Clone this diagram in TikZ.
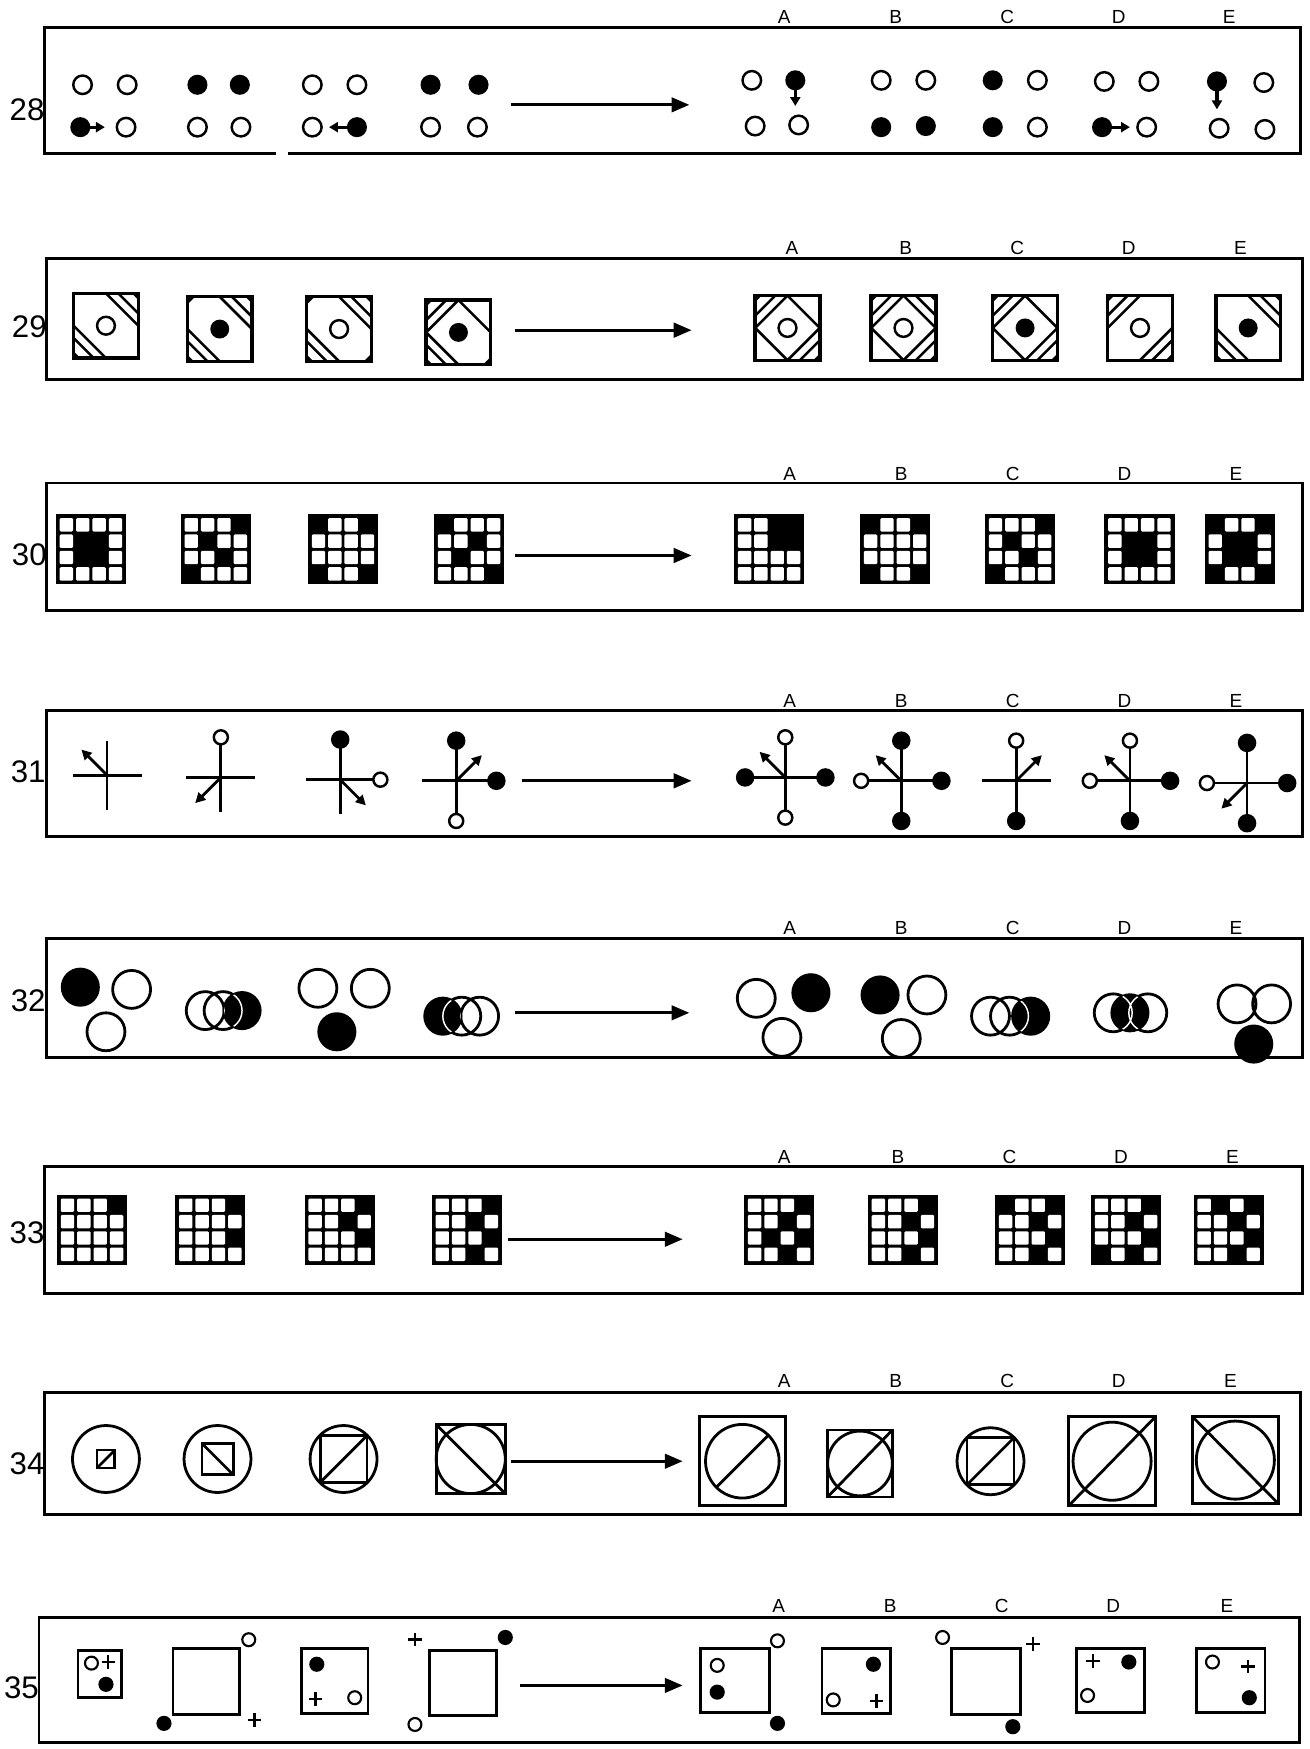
\documentclass[tikz,border=0pt]{standalone}
\usepackage{fontspec}
\setmainfont{Liberation Sans}
\usetikzlibrary{arrows.meta}
\tikzset{
 frame/.style={line width=2.6pt},
 bigarrow/.style={line width=2.6pt,-{Triangle[length=16pt,width=13pt]}},
 numlbl/.style={font=\fontsize{28}{30}\selectfont, anchor=east, inner sep=0pt},
 optlbl/.style={font=\fontsize{17}{18}\selectfont, inner sep=0pt},
 hl/.style={line width=2.3pt},
}
% row 28
\newcommand\dO[2]{\draw[line width=2.2pt] (#1,#2) circle[radius=8.3];}
\newcommand\dF[2]{\fill (#1,#2) circle[radius=9];}
\newcommand\dA[4]{\draw[line width=2.8pt,-{Triangle[length=8pt,width=9pt]}] (#1,#2) -- (#3,#4);}
% row 29
\newcommand\hc[5]{%
 \ifcase#5\relax
 \or \draw[hl] ({#1+(#3)*29},{#2}) -- ({#1},{#2+(#4)*29});
 \or \draw[hl] ({#1+(#3)*29},{#2}) -- ({#1},{#2+(#4)*29});
     \draw[hl] ({#1+(#3)*29},{#2+(#4)*11}) -- ({#1+(#3)*11},{#2+(#4)*29});
     \fill ({#1+(#3)*29},{#2+(#4)*29}) -- ({#1+(#3)*29},{#2+(#4)*23}) -- ({#1+(#3)*23},{#2+(#4)*29}) -- cycle;
 \or \fill ({#1+(#3)*29},{#2+(#4)*29}) -- ({#1+(#3)*29},{#2+(#4)*22}) -- ({#1+(#3)*22},{#2+(#4)*29}) -- cycle;
 \fi}
\newcommand\hfig[7]{%
 \hc{#1}{#2}{-1}{-1}{#3}\hc{#1}{#2}{1}{-1}{#4}\hc{#1}{#2}{1}{1}{#5}\hc{#1}{#2}{-1}{1}{#6}%
 \draw[line width=3pt] ({#1-29},{#2-29}) rectangle ({#1+29},{#2+29});
 \ifx#7o\draw[line width=2.2pt] (#1,#2) circle[radius=8];\else\fill (#1,#2) circle[radius=8.5];\fi}
% rows 30 and 33
\newcommand\gridfig[3]{%
 \fill (#1,#2) rectangle ++(63,63);
 \foreach \gr in {0,...,3}{\foreach \gc in {0,...,3}{\fill[white,rounded corners=1pt] ({#1+3.5+\gc*14.67},{#2+3.5+\gr*14.67}) rectangle ++(12,12);}}
 \foreach \gr/\gc in {#3}{\fill ({#1+3.5+(\gc-1)*14.67-0.6},{#2+3.5+(\gr-1)*14.67-0.6}) rectangle ++(13.2,13.2);}}
% row 31
\newcommand\armc[3]{\ifx#3o\draw[line width=2.2pt,fill=white] ({#1},{#2}) circle[radius=6.3];\fi\ifx#3f\fill ({#1},{#2}) circle[radius=8.3];\fi}
\newcommand\crossfig[8]{%
 \draw[line width=2.5pt] ({#1-31},#2) -- ({#1+31},#2) (#1,{#2-31}) -- (#1,{#2+31});
 \draw[line width=2.5pt,-{Triangle[length=9pt,width=9pt]}] (#1,#2) -- ({#1+(#7)*23},{#2+(#8)*23});
 \armc{#1}{#2-36}{#3}\armc{#1+36}{#2}{#4}\armc{#1}{#2+36}{#5}\armc{#1-36}{#2}{#6}}
% row 32
\newcommand\RoO[2]{\draw[line width=2.5pt] (#1,#2) circle[radius=17];}
\newcommand\RoF[2]{\fill (#1,#2) circle[radius=17.5];}
\newcommand\RoX[6]{% filled x,y ; open1 ; open2
 \fill (#1,#2) circle[radius=17.5];
 \draw[line width=2.5pt] (#3,#4) circle[radius=17] (#5,#6) circle[radius=17];
 \begin{scope}\clip (#1,#2) circle[radius=16];
 \draw[white,line width=1.3pt] (#3,#4) circle[radius=17] (#5,#6) circle[radius=17];
 \end{scope}}
% row 35
\newcommand\SmO[2]{\draw[line width=1.9pt] (#1,#2) circle[radius=5.8];}
\newcommand\SmF[2]{\fill (#1,#2) circle[radius=6.8];}
\newcommand\SmP[2]{\draw[line width=2.3pt] ({#1-6},#2) -- ({#1+6},#2) (#1,{#2-6}) -- (#1,{#2+6});}
\begin{document}
\begin{tikzpicture}[x=1pt,y=-1pt]
\fill[white] (0,0) rectangle (1174,1568);
\useasboundingbox (0,0) rectangle (1174,1568);

% ---------------- row 28
\draw[frame] (247,138) -- (40,138) -- (40,25) -- (1166,25) -- (1166,138) -- (258,138);
\node[numlbl] (n28) at (40,98) {28};
\foreach \l/\x in {A/703,B/803,C/903,D/1003,E/1102}{\node[optlbl] (l28\l) at (\x,15) {\l};}
\dO{74}{76}\dO{114}{76}\dA{70}{114}{94}{114}\dF{72}{114}\dO{113}{114}
\dF{177}{76}\dF{215}{76}\dO{177}{114}\dO{216}{114}
\dO{280}{76}\dO{320}{76}\dO{280}{114}\dA{322}{114}{295}{114}\dF{320}{114}
\dF{386}{76}\dF{429}{76}\dO{386}{114}\dO{428}{114}
\coordinate (a28s) at (458,94); \coordinate (a28e) at (618,94);
\draw[bigarrow] (a28s) -- (a28e);
\dO{674}{72}\dA{713}{70}{713}{95}\dF{713}{72}\dO{677}{113}\dO{716}{112}
\dO{790}{72}\dO{830}{72}\dF{790}{114}\dF{830}{113}
\dF{890}{72}\dO{930}{72}\dF{890}{114}\dO{930}{114}
\dO{990}{73}\dO{1030}{73}\dA{986}{114}{1013}{114}\dF{988}{114}\dO{1028}{114}
\dA{1091}{71}{1091}{98}\dF{1091}{73}\dO{1133}{74}\dO{1093}{115}\dO{1134}{116}

% ---------------- row 29
\draw[frame] (42,232) rectangle (1168,340);
\node[numlbl] (n29) at (42,293) {29};
\foreach \l/\x in {A/710,B/812,C/912,D/1012,E/1112}{\node[optlbl] (l29\l) at (\x,222) {\l};}
\hfig{95}{292}{0}{2}{0}{2}{o}
\hfig{197}{295}{3}{2}{0}{2}{f}
\hfig{304}{295}{3}{2}{3}{2}{o}
\hfig{411}{298}{2}{1}{3}{2}{f}
\coordinate (a29s) at (462,296); \coordinate (a29e) at (620,296);
\draw[bigarrow] (a29s) -- (a29e);
\hfig{706}{294}{2}{1}{2}{1}{o}
\hfig{810}{294}{2}{2}{2}{1}{o}
\hfig{919}{294}{2}{1}{2}{1}{f}
\hfig{1022}{294}{2}{0}{2}{0}{o}
\hfig{1119}{294}{0}{2}{0}{2}{f}

% ---------------- row 30
\draw[frame] (42,433) rectangle (1168,547);
\node[numlbl] (n30) at (42,497) {30};
\foreach \l/\x in {A/708,B/808,C/908,D/1008,E/1108}{\node[optlbl] (l30\l) at (\x,425) {\l};}
\gridfig{50}{461}{2/2,2/3,3/2,3/3}
\gridfig{162}{461}{1/4,2/2,3/3,4/1}
\gridfig{276}{461}{1/1,1/4,4/1,4/4}
\gridfig{389}{461}{1/1,2/3,3/2,4/4}
\coordinate (a30s) at (462,498); \coordinate (a30e) at (620,498);
\draw[bigarrow] (a30s) -- (a30e);
\gridfig{658}{461}{1/3,1/4,2/3,2/4}
\gridfig{771}{461}{1/1,1/4,4/1,4/4}
\gridfig{883}{461}{1/4,2/2,3/3,4/1}
\gridfig{990}{461}{2/2,2/3,3/2,3/3}
\gridfig{1080}{461}{1/1,1/4,2/2,2/3,3/2,3/3,4/1,4/4}

% ---------------- row 31
\draw[frame] (42,637) rectangle (1168,750);
\node[numlbl] (n31) at (41,692) {31};
\foreach \l/\x in {A/708,B/808,C/908,D/1008,E/1108}{\node[optlbl] (l31\l) at (\x,628) {\l};}
\crossfig{96}{695}{n}{n}{n}{n}{-1}{-1}
\crossfig{198}{697}{o}{n}{n}{n}{-1}{1}
\crossfig{305}{699}{f}{o}{n}{n}{1}{1}
\crossfig{409}{700}{f}{f}{o}{n}{1}{-1}
\coordinate (a31s) at (468,700); \coordinate (a31e) at (620,700);
\draw[bigarrow] (a31s) -- (a31e);
\crossfig{704}{697}{o}{f}{o}{f}{-1}{-1}
\crossfig{808}{700}{f}{f}{f}{o}{-1}{-1}
\crossfig{911}{700}{o}{n}{f}{n}{1}{-1}
\crossfig{1013}{700}{o}{f}{f}{o}{-1}{-1}
\crossfig{1118}{702}{f}{f}{f}{o}{-1}{1}

% ---------------- row 32
\draw[frame] (42,841) rectangle (1168,948);
\node[numlbl] (n32) at (41,897) {32};
\foreach \l/\x in {A/708,B/808,C/908,D/1008,E/1108}{\node[optlbl] (l32\l) at (\x,832) {\l};}
\RoF{72}{885}\RoO{118}{887}\RoO{95}{925}
\RoX{217}{906}{184}{906}{200}{906}
\RoO{285}{886}\RoO{332}{886}\RoF{302}{925}
\RoX{397}{911}{414}{911}{430}{911}
\coordinate (a32s) at (462,908); \coordinate (a32e) at (618,908);
\draw[bigarrow] (a32s) -- (a32e);
\RoO{678}{895}\RoF{727}{890}\RoO{701}{930}
\RoF{789}{892}\RoO{831}{892}\RoO{808}{931}
\RoX{924}{911}{888}{911}{905}{911}
\RoX{1013}{908}{998}{908}{1029}{908}
\RoX{1124}{936}{1109}{900}{1140}{900}

% ---------------- row 33
\draw[frame] (40,1046) rectangle (1168,1160);
\node[numlbl] (n33) at (40,1105) {33};
\foreach \l/\x in {A/703,B/805,C/905,D/1005,E/1105}{\node[optlbl] (l33\l) at (\x,1037) {\l};}
\gridfig{51}{1071}{1/4}
\gridfig{157}{1071}{1/4,3/4}
\gridfig{273}{1071}{1/4,2/3,3/4}
\gridfig{387}{1071}{1/4,2/3,3/4,4/3}
\coordinate (a33s) at (455,1111); \coordinate (a33e) at (612,1111);
\draw[bigarrow] (a33s) -- (a33e);
\gridfig{667}{1071}{1/4,2/3,3/2,3/4,4/3}
\gridfig{778}{1071}{1/4,2/3,3/4,4/3}
\gridfig{892}{1071}{1/1,1/4,2/3,3/4,4/3}
\gridfig{978}{1071}{1/4,2/3,3/4,4/1,4/3}
\gridfig{1070}{1071}{1/2,1/4,2/3,3/4,4/3}

% ---------------- row 34
\draw[frame] (40,1248) rectangle (1166,1358);
\node[numlbl] (n34) at (40,1312) {34};
\foreach \l/\x in {A/703,B/803,C/903,D/1003,E/1103}{\node[optlbl] (l34\l) at (\x,1238) {\l};}
\begin{scope}[line width=2.5pt]
\draw (95,1308) circle[radius=30];
\draw (87,1300) rectangle (103,1316); \draw (87,1316) -- (103,1300);
\draw (195,1308) circle[radius=30];
\draw (181,1294) rectangle (209,1322); \draw (181,1294) -- (209,1322);
\draw (308,1308) circle[radius=30];
\draw (287,1287) rectangle (329,1329); \draw (287,1329) -- (329,1287);
\draw (391,1277) rectangle (453,1339); \draw (422,1308) circle[radius=31];
\draw (391,1277) -- (453,1339);
\coordinate (a34s) at (458,1310); \coordinate (a34e) at (612,1310);
\draw[bigarrow] (a34s) -- (a34e);
\draw (627,1270) rectangle (704,1350); \draw (665.5,1310) circle[radius=33];
\draw (642.2,1333.3) -- (688.8,1286.7);
\draw (742,1282) rectangle (800,1342); \draw (771,1312) circle[radius=29];
\draw (742,1342) -- (800,1282);
\draw (888,1310) circle[radius=30];
\draw (867,1289) rectangle (909,1331); \draw (867,1331) -- (909,1289);
\draw (958,1270) rectangle (1036,1350); \draw (997,1310) circle[radius=35];
\draw (958,1350) -- (1036,1270);
\draw (1069,1270) rectangle (1146,1348); \draw (1107.5,1309) circle[radius=35];
\draw (1069,1270) -- (1146,1348);
\end{scope}

% ---------------- row 35
\draw[frame] (35,1450) rectangle (1165,1562);
\node[numlbl] (n35) at (35,1513) {35};
\foreach \l/\x in {A/698,B/798,C/898,D/998,E/1100}{\node[optlbl] (l35\l) at (\x,1440) {\l};}
\begin{scope}[line width=2.5pt]
\draw (70,1480) rectangle (109,1522);
\draw (155,1478) rectangle (215,1537);
\draw (270,1478) rectangle (330,1536);
\draw (385,1480) rectangle (445,1538);
\draw (628,1478) rectangle (690,1535);
\draw (737,1478) rectangle (798,1536);
\draw (853,1478) rectangle (915,1537);
\draw (965,1478) rectangle (1026,1535);
\draw (1073,1478) rectangle (1134,1535);
\end{scope}
\SmO{82}{1491}\SmP{97}{1490}\SmF{95}{1510}
\SmO{223}{1470}\SmF{147}{1545}\SmP{228}{1542}
\SmF{284}{1492}\SmP{283}{1523}\SmO{318}{1522}
\SmP{372}{1470}\SmF{453}{1468}\SmO{372}{1546}
\coordinate (a35s) at (466,1511); \coordinate (a35e) at (612,1511);
\draw[bigarrow] (a35s) -- (a35e);
\SmO{643}{1493}\SmF{643}{1517}\SmO{697}{1471}\SmF{697}{1545}
\SmF{783}{1492}\SmO{747}{1524}\SmP{786}{1525}
\SmO{845}{1468}\SmP{926}{1474}\SmF{908}{1548}
\SmP{980}{1489}\SmF{1012}{1490}\SmO{975}{1520}
\SmO{1087}{1490}\SmP{1119}{1494}\SmF{1120}{1522}
\end{tikzpicture}
\end{document}
